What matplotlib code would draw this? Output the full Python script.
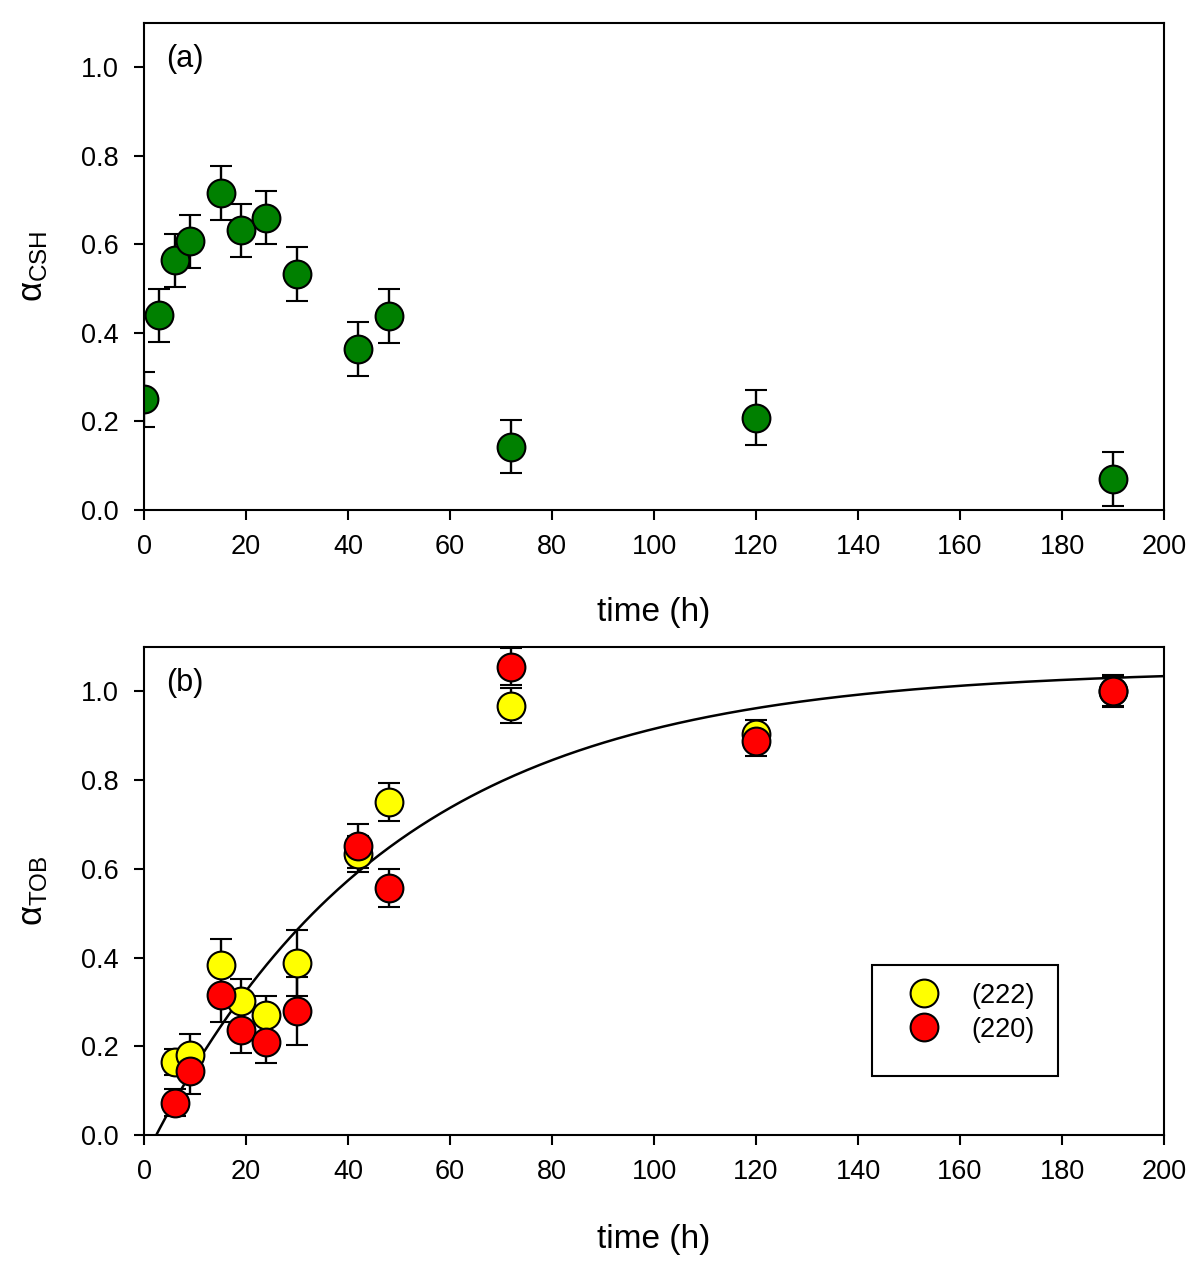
import matplotlib
matplotlib.use('Agg')
import matplotlib.pyplot as plt
from matplotlib.patches import Rectangle
import numpy as np

# Panel (a): alpha_CSH vs time
time_a = [0, 3, 6, 9, 15, 19, 24, 30, 42, 48, 72, 120, 190]
csh = [0.250, 0.440, 0.564, 0.607, 0.717, 0.632, 0.660, 0.534, 0.363, 0.438, 0.143, 0.208, 0.071]
csh_err = [0.062, 0.060, 0.060, 0.060, 0.061, 0.060, 0.060, 0.061, 0.061, 0.061, 0.060, 0.062, 0.061]

# Panel (b): alpha_TOB vs time, two reflections
time_b = [6, 9, 15, 19, 24, 30, 42, 48, 72, 120, 190]
tob_222 = [0.165, 0.180, 0.383, 0.302, 0.270, 0.388, 0.633, 0.751, 0.968, 0.905, 1.000]
tob_222_err = [0.030, 0.047, 0.058, 0.050, 0.044, 0.074, 0.040, 0.042, 0.040, 0.030, 0.035]
tob_220 = [0.073, 0.144, 0.315, 0.236, 0.210, 0.280, 0.651, 0.557, 1.056, 0.889, 1.002]
tob_220_err = [0.030, 0.052, 0.060, 0.052, 0.048, 0.077, 0.050, 0.043, 0.042, 0.034, 0.035]

# Fitted curve parameters: a * (1 - exp(-k (t - t0)))
fit_a = 1.051
fit_k = 0.021
fit_t0 = 2.4

plt.rcParams['font.family'] = 'Liberation Sans'
plt.rcParams['mathtext.fontset'] = 'custom'
plt.rcParams['mathtext.rm'] = 'Liberation Sans'
plt.rcParams['mathtext.it'] = 'Liberation Sans'
plt.rcParams['axes.linewidth'] = 1.5

fig = plt.figure(figsize=(12, 12.63), dpi=100)
ax_a = fig.add_axes([0.12, 0.5962, 0.85, 0.3856])
ax_b = fig.add_axes([0.12, 0.1013, 0.85, 0.3864])

marker_kw = dict(fmt='o', markersize=20, markeredgecolor='black', markeredgewidth=1.5,
                 ecolor='black', elinewidth=1.7, capsize=8, capthick=1.7)

ax_a.errorbar(time_a, csh, yerr=csh_err, markerfacecolor='#008000', **marker_kw)

h222 = ax_b.errorbar(time_b, tob_222, yerr=tob_222_err, markerfacecolor='#ffff00', **marker_kw)
h220 = ax_b.errorbar(time_b, tob_220, yerr=tob_220_err, markerfacecolor='#ff0000', **marker_kw)

t_fit = np.linspace(0, 200, 400)
ax_b.plot(t_fit, fit_a * (1 - np.exp(-fit_k * (t_fit - fit_t0))), color='black', lw=1.8, zorder=1)

panels = [(ax_a, r'$\alpha_{\mathrm{CSH}}$', '(a)', -0.178),
          (ax_b, r'$\alpha_{\mathrm{TOB}}$', '(b)', -0.182)]
for ax, ylab, tag, xlab_y in panels:
    ax.set_xlim(0, 200)
    ax.set_ylim(0, 1.1)
    ax.set_xticks(np.arange(0, 201, 20))
    ax.set_yticks(np.arange(0, 1.01, 0.2))
    ax.set_yticklabels([f'{v:.1f}' for v in np.arange(0, 1.01, 0.2)])
    ax.tick_params(direction='out', length=7, width=1.5, labelsize=19.5)
    ax.tick_params(axis='x', pad=10)
    ax.tick_params(axis='y', pad=11)
    ax.set_xlabel('time (h)', fontsize=24)
    ax.xaxis.set_label_coords(0.5, xlab_y)
    ax.set_ylabel(ylab, fontsize=25)
    ax.yaxis.set_label_coords(-0.092, 0.5)
    ax.text(4.3, 1.019, tag, fontsize=22, va='center', ha='left')

leg = ax_b.legend([h222[0], h220[0]], ['(222)', '(220)'], loc='upper left',
                  bbox_to_anchor=(0.749, 0.312), fontsize=19.5, frameon=False,
                  borderpad=0, labelspacing=0.3, handletextpad=1.15,
                  handlelength=1.2, borderaxespad=0)
ax_b.add_patch(Rectangle((0.7137, 0.121), 0.1823, 0.227, transform=ax_b.transAxes,
                         fill=False, edgecolor='black', linewidth=1.5, zorder=5))

fig.savefig('out.png', dpi=100)
